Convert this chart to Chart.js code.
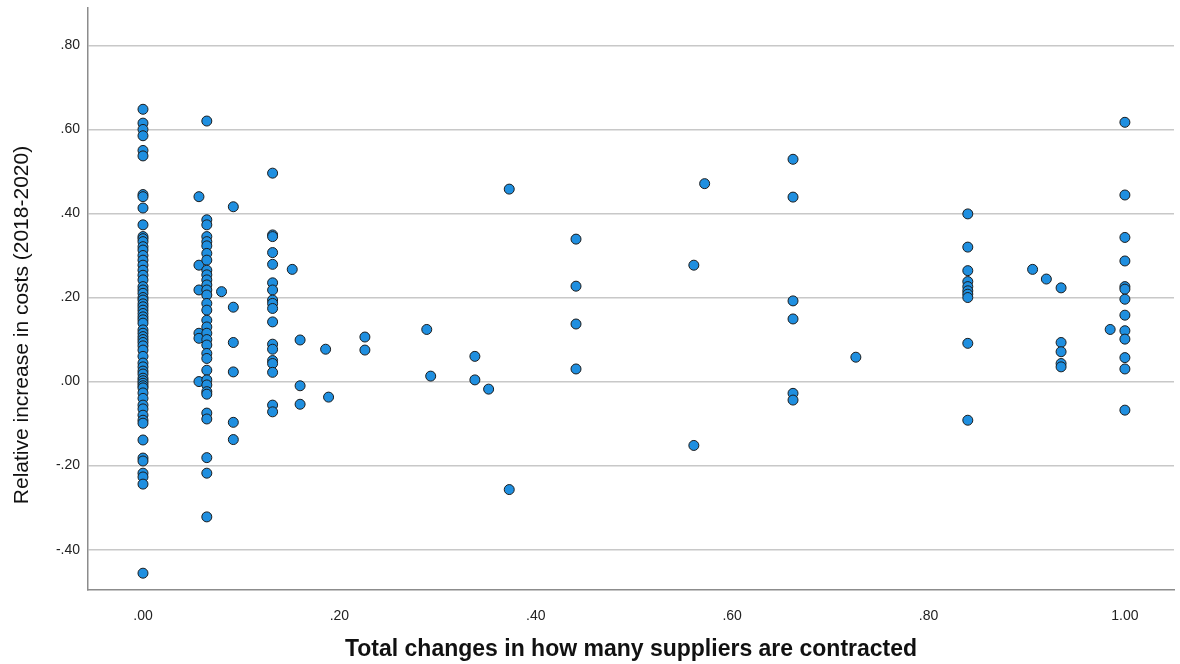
<!DOCTYPE html>
<html>
<head>
<meta charset="utf-8">
<script src="https://cdn.jsdelivr.net/npm/chart.js@4/dist/chart.umd.min.js"></script>
<style>
  html, body { margin: 0; padding: 0; background: #fff; }
  #wrap { width: 1180px; height: 664px; }
</style>
</head>
<body>
<div id="wrap"><canvas id="graficoDispersion"></canvas></div>
<script>
// DATOS: cada columna x con sus valores y
const supplierChange = [0, 0.057, 0.065, 0.080, 0.092, 0.132, 0.152, 0.160, 0.186, 0.189, 0.226,
    0.289, 0.293, 0.338, 0.352, 0.373, 0.441, 0.561, 0.572, 0.662, 0.726, 0.840, 0.906, 0.920,
    0.935, 0.985, 1.000];

const costIncrease = [
    [0.648, 0.615, 0.600, 0.585, 0.550, 0.537, 0.445, 0.440, 0.413, 0.373, 0.345, 0.340, 0.333,
     0.321, 0.313, 0.300, 0.289, 0.277, 0.265, 0.253, 0.242, 0.226, 0.218, 0.210, 0.200, 0.194,
     0.185, 0.178, 0.170, 0.162, 0.154, 0.147, 0.139, 0.123, 0.115, 0.107, 0.100, 0.093, 0.085,
     0.075, 0.060, 0.044, 0.035, 0.025, 0.018, 0.008, 0.002, -0.004, -0.010, -0.015, -0.027,
     -0.040, -0.056, -0.065, -0.080, -0.092, -0.099, -0.139, -0.182, -0.189, -0.218, -0.227,
     -0.244, -0.456],
    [0.440, 0.277, 0.218, 0.115, 0.103, 0.000],
    [0.620, 0.385, 0.373, 0.345, 0.333, 0.323, 0.305, 0.289, 0.265, 0.254, 0.242, 0.230, 0.218,
     0.206, 0.186, 0.170, 0.146, 0.130, 0.115, 0.100, 0.087, 0.067, 0.055, 0.027, 0.004, -0.008,
     -0.024, -0.030, -0.075, -0.089, -0.181, -0.218, -0.322],
    [0.214],
    [0.416, 0.177, 0.093, 0.023, -0.097, -0.138],
    [0.496, 0.349, 0.345, 0.307, 0.279, 0.235, 0.218, 0.194, 0.186, 0.174, 0.142, 0.089, 0.077,
     0.050, 0.043, 0.022, -0.056, -0.072],
    [0.267],
    [0.099, -0.010, -0.054],
    [0.077],
    [-0.037],
    [0.106, 0.075],
    [0.124],
    [0.013],
    [0.060, 0.004],
    [-0.018],
    [0.458, -0.257],
    [0.339, 0.227, 0.137, 0.030],
    [0.277, -0.152],
    [0.471],
    [0.529, 0.439, 0.192, 0.149, -0.028, -0.044],
    [0.058],
    [0.399, 0.320, 0.264, 0.238, 0.226, 0.216, 0.208, 0.200, 0.091, -0.092],
    [0.267],
    [0.244],
    [0.223, 0.093, 0.071, 0.043, 0.035],
    [0.124],
    [0.617, 0.444, 0.343, 0.287, 0.226, 0.220, 0.196, 0.158, 0.121, 0.101, 0.057, 0.030, -0.068]
];

// Etiquetas de los ejes
const xTicks = [0, 0.2, 0.4, 0.6, 0.8, 1.0];
const yTicks = [-0.4, -0.2, 0, 0.2, 0.4, 0.6, 0.8];

const xTitle = "Total changes in how many suppliers are contracted";
const yTitle = "Relative increase in costs (2018-2020)";

// formato estilo SPSS: .80, -.40, 1.00
function spssLabel(v) {
    const r = Math.round(v * 100) / 100;
    return (r === 0 ? 0 : r).toFixed(2).replace(/^(-?)0\./, "$1.");
}

// Título del eje Y: SPSS lo centra en el alto total, no en el área del gráfico
const tituloEjeY = {
    id: 'tituloEjeY',
    afterDraw(chart) {
        const ctx = chart.ctx;
        ctx.save();
        ctx.translate(22, chart.height / 2 - 7);
        ctx.rotate(-Math.PI / 2);
        ctx.font = '21px Arial, "Liberation Sans"';
        ctx.fillStyle = '#111';
        ctx.textAlign = 'center';
        ctx.textBaseline = 'middle';
        ctx.fillText(yTitle, 0, 0);
        ctx.restore();
    }
};

document.addEventListener("DOMContentLoaded", () => {
    const puntos = [];
    supplierChange.forEach((x, i) => {
        costIncrease[i].forEach(y => puntos.push({ x: x, y: y }));
    });

    new Chart(document.getElementById("graficoDispersion"), {
        type: 'scatter',
        data: {
            datasets: [{
                data: puntos,
                backgroundColor: '#1f8fe0',
                borderColor: '#1c1c1c',
                borderWidth: 1,
                pointRadius: 5,
                pointHoverRadius: 5
            }]
        },
        plugins: [tituloEjeY],
        options: {
            responsive: true,
            maintainAspectRatio: false,
            animation: false,
            layout: { padding: { top: 8, right: 2, left: 0, bottom: 0 } },
            plugins: {
                legend: { display: false },
                tooltip: { enabled: false }
            },
            scales: {
                x: {
                    type: 'linear',
                    min: -0.056,
                    max: 1.05,
                    afterBuildTicks: (s) => { s.ticks = xTicks.map(v => ({ value: v })); },
                    afterFit: (s) => { s.height = 74; },
                    grid: { display: false },
                    border: { display: true, color: '#8c8c8c', width: 1.5 },
                    ticks: {
                        padding: 10,
                        color: '#222',
                        font: { family: 'Arial, "Liberation Sans"', size: 14 },
                        callback: (v) => spssLabel(v)
                    },
                    title: {
                        display: true,
                        text: xTitle,
                        color: '#111',
                        font: { family: 'Arial, "Liberation Sans"', size: 23, weight: 'bold' },
                        padding: { top: 0, bottom: 1 }
                    }
                },
                y: {
                    type: 'linear',
                    min: -0.496,
                    max: 0.889,
                    afterBuildTicks: (s) => { s.ticks = yTicks.map(v => ({ value: v })); },
                    afterFit: (s) => { s.width = 88; s.paddingTop = 0; s.paddingBottom = 0; },
                    grid: { color: '#c8c8c8', lineWidth: 1.5, drawTicks: false },
                    border: { display: true, color: '#8c8c8c', width: 1.5 },
                    ticks: {
                        padding: 8,
                        color: '#222',
                        font: { family: 'Arial, "Liberation Sans"', size: 14 },
                        callback: (v) => spssLabel(v)
                    },
                    title: { display: false }
                }
            }
        }
    });
});
</script>
</body>
</html>
